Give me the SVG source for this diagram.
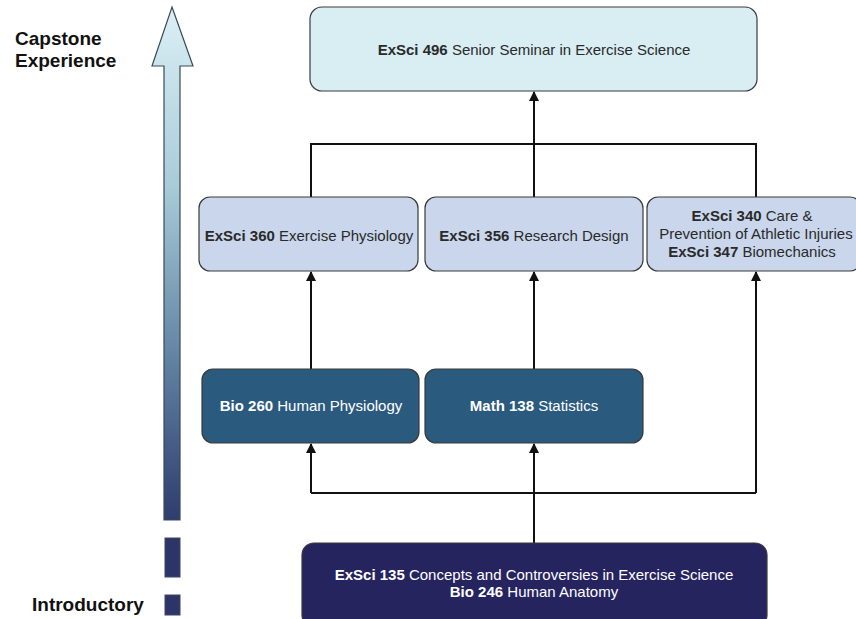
<svg xmlns="http://www.w3.org/2000/svg" width="856" height="619" viewBox="0 0 856 619">
  <defs>
    <linearGradient id="levelGrad" x1="0" y1="0" x2="0" y2="1">
      <stop offset="0" stop-color="#dbf0f5"/>
      <stop offset="0.35" stop-color="#a8cbd8"/>
      <stop offset="0.7" stop-color="#5f7fa0"/>
      <stop offset="1" stop-color="#2e3d6e"/>
    </linearGradient>
    <marker id="arrow" markerWidth="10" markerHeight="11" refX="9" refY="5.5" orient="auto" markerUnits="userSpaceOnUse">
      <path d="M0,0.5 L10,5.5 L0,10.5 Z" fill="#111"/>
    </marker>
    <style>
      .side { font-family: "Liberation Sans", Arial, sans-serif; font-weight: bold; font-size: 19px; fill: #111; }
      .lbl { font-family: "Liberation Sans", Arial, sans-serif; font-size: 15px; text-anchor: middle; }
      .dark { fill: #2a2a2a; }
      .light { fill: #ffffff; }
      .b { font-weight: bold; }
      .box { stroke: #3a3a3a; stroke-width: 1.2; }
      .capstone { fill: #d8eef3; }
      .upper { fill: #c9d6eb; }
      .middle { fill: #2b5a7f; }
      .intro { fill: #25245f; }
      .wire { fill: none; stroke: #111; stroke-width: 2; }
      .bar { fill: #2c3568; stroke: #3d4466; stroke-width: 1; }
    </style>
  </defs>

  <!-- level scale on the left -->
  <g id="scale">
    <polygon points="172,7 193,66 180,66 180,520 164,520 164,66 152,66" fill="url(#levelGrad)" stroke="#3a4a5a" stroke-width="1.2"/>
    <rect class="bar" x="165" y="538" width="15" height="39"/>
    <rect class="bar" x="165" y="595" width="15" height="20"/>
    <text class="side" x="15" y="45">Capstone</text>
    <text class="side" x="15" y="67">Experience</text>
    <text class="side" x="32" y="611">Introductory</text>
  </g>

  <!-- connectors -->
  <g id="connectors">
    <!-- 300-level to capstone -->
    <path class="wire" d="M311,197 V144 H756 V197"/>
    <path class="wire" d="M534,197 V92" marker-end="url(#arrow)"/>
    <!-- 200-level to 300-level -->
    <path class="wire" d="M311,369 V272" marker-end="url(#arrow)"/>
    <path class="wire" d="M534,369 V272" marker-end="url(#arrow)"/>
    <!-- introductory to the rest -->
    <path class="wire" d="M534,543 V493"/>
    <path class="wire" d="M311,493 H756"/>
    <path class="wire" d="M311,493 V444" marker-end="url(#arrow)"/>
    <path class="wire" d="M534,493 V444" marker-end="url(#arrow)"/>
    <path class="wire" d="M756,493 V272" marker-end="url(#arrow)"/>
  </g>

  <g id="exsci496">
    <rect class="box capstone" x="310" y="7" width="447" height="84" rx="12"/>
    <text class="lbl dark" x="534" y="55"><tspan class="b">ExSci 496</tspan> Senior Seminar in Exercise Science</text>
  </g>

  <g id="exsci360">
    <rect class="box upper" x="199" y="197" width="219" height="74" rx="11"/>
    <text class="lbl dark" x="309" y="241"><tspan class="b">ExSci 360</tspan> Exercise Physiology</text>
  </g>

  <g id="exsci356">
    <rect class="box upper" x="425" y="197" width="218" height="74" rx="11"/>
    <text class="lbl dark" x="534" y="241"><tspan class="b">ExSci 356</tspan> Research Design</text>
  </g>

  <g id="exsci340-347">
    <rect class="box upper" x="647" y="197" width="214" height="74" rx="11"/>
    <text class="lbl dark" x="752" y="221"><tspan class="b">ExSci 340</tspan> Care &amp;</text>
    <text class="lbl dark" x="756" y="239">Prevention of Athletic Injuries</text>
    <text class="lbl dark" x="752" y="257"><tspan class="b">ExSci 347</tspan> Biomechanics</text>
  </g>

  <g id="bio260">
    <rect class="box middle" x="202" y="369" width="217" height="74" rx="11"/>
    <text class="lbl light" x="311" y="411"><tspan class="b">Bio 260</tspan> Human Physiology</text>
  </g>

  <g id="math138">
    <rect class="box middle" x="425" y="369" width="218" height="74" rx="11"/>
    <text class="lbl light" x="534" y="411"><tspan class="b">Math 138</tspan> Statistics</text>
  </g>

  <g id="exsci135-bio246">
    <rect class="box intro" x="302" y="543" width="465" height="84" rx="12"/>
    <text class="lbl light" x="534" y="580"><tspan class="b">ExSci 135</tspan> Concepts and Controversies in Exercise Science</text>
    <text class="lbl light" x="534" y="597"><tspan class="b">Bio 246</tspan> Human Anatomy</text>
  </g>
</svg>
